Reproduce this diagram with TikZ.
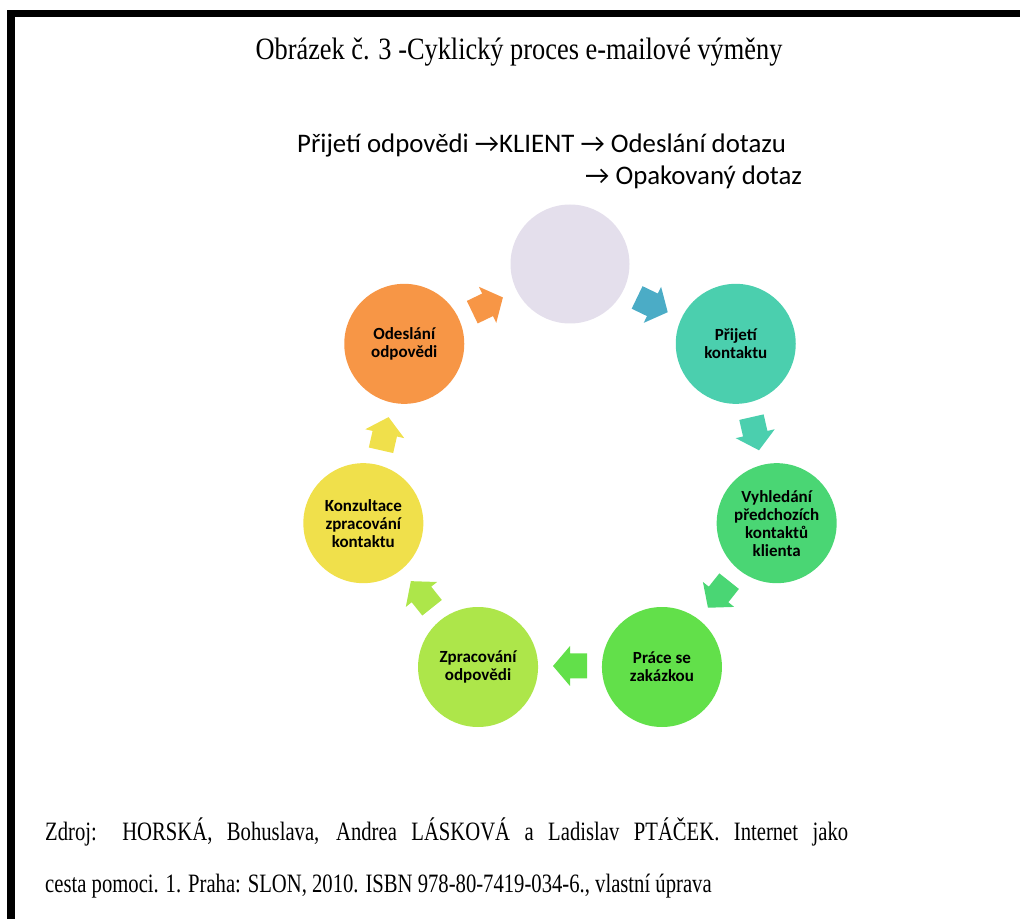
\documentclass[tikz,border=0pt]{standalone}
\usepackage{fontspec}
\setmainfont{Liberation Serif}
\newfontfamily\titleserif[FakeStretch=0.85]{Liberation Serif}
\newfontfamily\bodyserif[FakeStretch=0.78]{Liberation Serif}
\newfontfamily\calibri{Carlito}
\definecolor{cpurple}{HTML}{E4DFEC}
\definecolor{cteal}{HTML}{4BCFAE}
\definecolor{cgreenA}{HTML}{4AD674}
\definecolor{cgreenB}{HTML}{62E04A}
\definecolor{clime}{HTML}{ADE64A}
\definecolor{cyellow}{HTML}{F0E04B}
\definecolor{corange}{HTML}{F79646}
\definecolor{cblue}{HTML}{4BACC6}
\tikzset{
  circ/.style={circle, minimum size=120pt, inner sep=0pt, align=center,
    font=\calibri\bfseries\fontsize{17}{18}\selectfont, text=black},
  barrow/.pic={\fill (-17,-12.5) -- (0,-12.5) -- (0,-20) -- (17,0) -- (0,20) -- (0,12.5) -- (-17,12.5) -- cycle;},
  titletext/.style={font=\titleserif\fontsize{31}{34}\selectfont, inner sep=0pt},
  srctext/.style={font=\bodyserif\fontsize{26.5}{30}\selectfont, inner sep=0pt, anchor=west},
  toptext/.style={font=\calibri\fontsize{26.8}{30}\selectfont, inner sep=0pt, anchor=west}
}
\begin{document}
\begin{tikzpicture}[x=1pt,y=1pt]
\useasboundingbox (0,0) rectangle (1020,919);
% frame
\fill[black] (7,902) rectangle (1020,909);
\fill[black] (7,0) rectangle (15,909);
% title
\node[titletext] (title) at (519,867) {Obrázek č. 3 -Cyklický proces e-mailové výměny};
% top text
\node[toptext] (t1) at (297,774) {Přijetí odpovědi →KLIENT → Odeslání dotazu};
\node[toptext] (t2) at (585,742) {→ Opakovaný dotaz};
% cycle
\begin{scope}[shift={(570,443)}]
  \node[circ, fill=cpurple, minimum size=119pt] (n1) at (90:212) {};
  \node[circ, fill=cteal] (n2) at (38.57:212) {Přijetí\\kontaktu};
  \node[circ, fill=cgreenA] (n3) at (-12.86:212) {Vyhledání\\předchozích\\kontaktů\\klienta};
  \node[circ, fill=cgreenB] (n4) at (-64.29:212) {Práce se\\zakázkou};
  \node[circ, fill=clime] (n5) at (-115.71:212) {Zpracování\\odpovědi};
  \node[circ, fill=cyellow] (n6) at (-167.14:212) {Konzultace\\zpracování\\kontaktu};
  \node[circ, fill=corange] (n7) at (141.43:212) {Odeslání\\odpovědi};
  \pic[fill=cblue, rotate=-25.71] (a1) at (64.29:190) {barrow};
  \pic[fill=cteal, rotate=-77.14] (a2) at (12.86:190) {barrow};
  \pic[fill=cgreenA, rotate=-128.57] (a3) at (-38.57:190) {barrow};
  \pic[fill=cgreenB, rotate=180] (a4) at (-90:190) {barrow};
  \pic[fill=clime, rotate=128.57] (a5) at (-141.43:190) {barrow};
  \pic[fill=cyellow, rotate=77.14] (a6) at (167.14:190) {barrow};
  \pic[fill=corange, rotate=25.71] (a7) at (115.71:190) {barrow};
\end{scope}
% source
\node[srctext] (src1) at (45,87) {\makebox[803pt][s]{Zdroj: HORSKÁ, Bohuslava, Andrea LÁSKOVÁ a Ladislav PTÁČEK. Internet jako}};
\node[srctext] (src2) at (45,33) {cesta pomoci. 1. Praha: SLON, 2010. ISBN 978-80-7419-034-6., vlastní úprava};
\end{tikzpicture}
\end{document}
